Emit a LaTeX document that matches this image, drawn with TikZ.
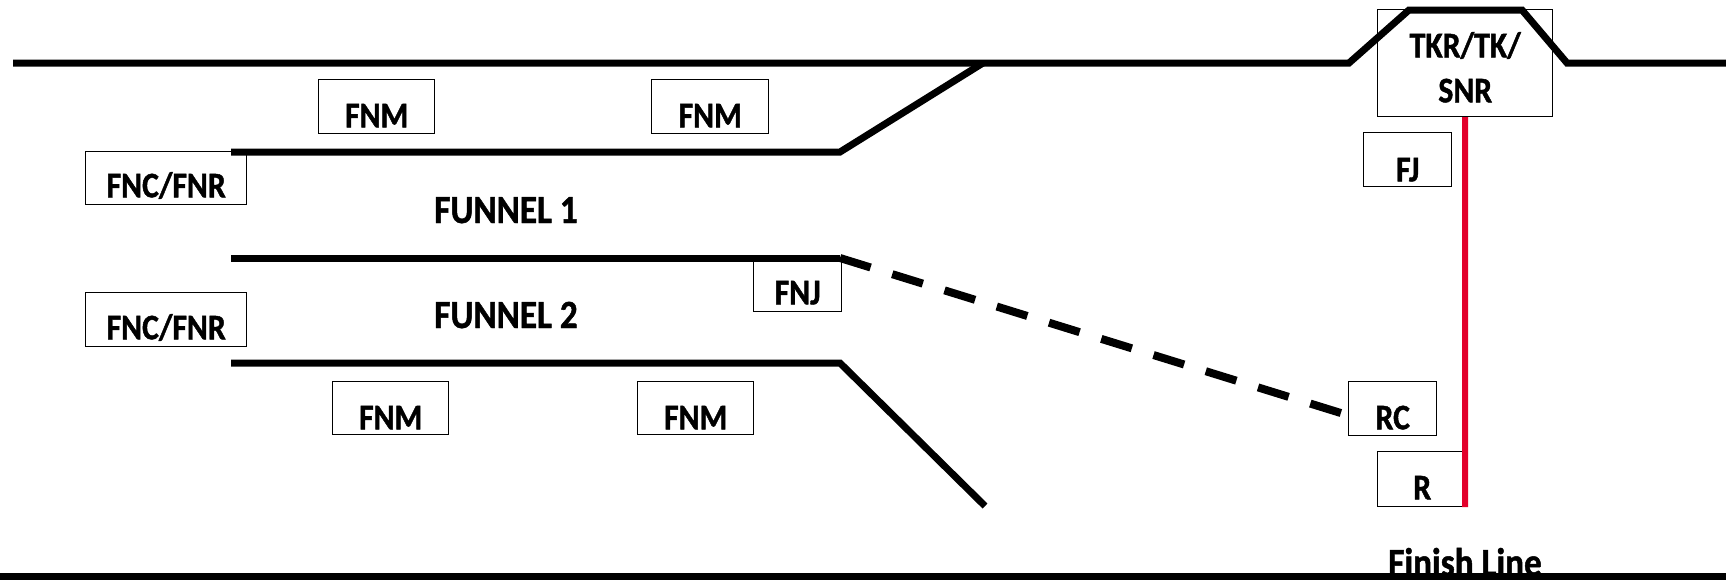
\documentclass[tikz,border=0pt]{standalone}
\usepackage{fontspec}
\setmainfont{Carlito}[FakeStretch=0.88, BoldFont={Carlito Bold}, BoldFeatures={FakeBold=1.2}]
\definecolor{finishred}{RGB}{227,0,43}
\tikzset{
  track/.style={line width=7pt},
  station/.style={draw, line width=1.4pt, inner sep=0pt, anchor=south west,
    text depth=6pt, font=\fontsize{36}{40}\selectfont\bfseries},
  bigtext/.style={inner sep=0pt, anchor=base, font=\fontsize{40}{44}\selectfont\bfseries}
}

\begin{document}
\begin{tikzpicture}[x=1pt,y=-1pt]
\useasboundingbox (0,0) rectangle (1726,579);

\coordinate (tl) at (13,63);
\coordinate (ramp1) at (1349,63);
\coordinate (ramp2) at (1409,10);
\coordinate (ramp3) at (1522,10);
\coordinate (ramp4) at (1567,63);
\coordinate (tr) at (1726,63);
\coordinate (merge) at (983,63);

\coordinate (f1a) at (231,152);
\coordinate (f1b) at (840,152);
\coordinate (f2a) at (231,258);
\coordinate (f2b) at (840,258);
\coordinate (f3a) at (231,363);
\coordinate (f3b) at (840,363);
\coordinate (f3c) at (985,506);
\coordinate (rcin) at (1344,414);
\coordinate (fin) at (1465,507);
\coordinate (bl) at (0,576);
\coordinate (br) at (1726,576);

\node[station, minimum width=116pt, text height=48pt] (fnm1) at (318,134) {FNM};
\node[station, minimum width=117pt, text height=48pt] (fnm2) at (651,134) {FNM};
\node[station, minimum width=161pt, text height=46pt, text depth=7pt] (fnc1) at (85,205) {FNC/FNR};
\node[station, minimum width=161pt, text height=47pt, text depth=7pt] (fnc2) at (85,347) {FNC/FNR};
\node[station, minimum width=88pt, text height=43pt, text depth=7pt] (fnj) at (753,312) {FNJ};
\node[station, minimum width=116pt, text height=48pt, text depth=5pt] (fnm3) at (332,435) {FNM};
\node[station, minimum width=116pt, text height=48pt, text depth=5pt] (fnm4) at (637,435) {FNM};
\node[station, minimum width=88pt, text height=49pt, text depth=5pt] (fj) at (1363,187) {FJ};
\node[station, minimum width=88pt, text height=48pt] (rc) at (1348,436) {RC};
\node[station, minimum width=89pt, text height=48pt, text depth=7pt] (r) at (1377,507) {R};
\node[station, minimum width=175pt, text height=93pt, text depth=14pt, align=center,
  font=\fontsize{36}{45}\selectfont\bfseries] (tkr) at (1377,117) {TKR/TK/\\SNR};

\node[bigtext] (funnel1) at (506,223) {FUNNEL 1};
\node[bigtext] (funnel2) at (506,328) {FUNNEL 2};
\node[bigtext] (finish) at (1465,576) {Finish Line};

\draw[track] (tl) -- (ramp1) -- (ramp2) -- (ramp3) -- (ramp4) -- (tr);
\draw[track] (f1a) -- (f1b) -- (merge);
\draw[track] (f2a) -- (f2b);
\draw[track] (f3a) -- (f3b) -- (f3c);
\draw[line width=8pt, dash pattern=on 32pt off 22.7pt] (f2b) -- (rcin);
\draw[finishred, line width=6pt] (tkr.south) -- (fin);
\draw[track] (bl) -- (br);
\end{tikzpicture}
\end{document}
